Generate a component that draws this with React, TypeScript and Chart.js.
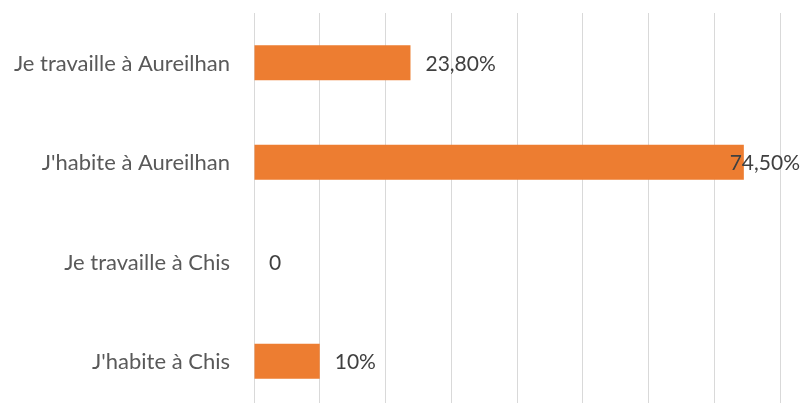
import React, { useEffect, useRef } from "react";
import { Chart, registerables } from "chart.js";

Chart.register(...registerables);

const categories = [
  "Je travaille à Aureilhan",
  "J'habite à Aureilhan",
  "Je travaille à Chis",
  "J'habite à Chis",
];
const values = [23.8, 74.5, 0, 10];
const valueLabels = ["23,80%", "74,50%", "0", "10%"];
const axisMax = 80;
const axisStep = 10;

const FONT = "Lato, 'Open Sans', sans-serif";

const labelsPlugin = {
  id: "customLabels",
  afterDatasetsDraw(chart: any) {
    const ctx = chart.ctx;
    const meta = chart.getDatasetMeta(0);
    const yScale = chart.scales.y;
    ctx.save();
    ctx.textBaseline = "middle";
    // category labels
    ctx.font = `22px ${FONT}`;
    ctx.fillStyle = "#595959";
    ctx.textAlign = "right";
    categories.forEach((c, i) => {
      const y = yScale.getPixelForValue(i);
      ctx.fillText(c, chart.chartArea.left - 24, y + 1);
    });
    // value labels
    ctx.font = `21px ${FONT}`;
    ctx.fillStyle = "#404040";
    ctx.textAlign = "left";
    meta.data.forEach((bar: any, i: number) => {
      const text = valueLabels[i];
      const w = ctx.measureText(text).width;
      let x = bar.x + 15;
      if (x + w > chart.width - 3) x = chart.width - 3 - w;
      ctx.fillText(text, x, bar.y + 1);
    });
    ctx.restore();
  },
};

export default function App() {
  const ref = useRef<HTMLCanvasElement | null>(null);
  useEffect(() => {
    if (!ref.current) return;
    const chart = new Chart(ref.current, {
      type: "bar",
      data: {
        labels: categories,
        datasets: [
          {
            data: values,
            backgroundColor: "#ED7D31",
            borderWidth: 0,
            barPercentage: 0.352,
            categoryPercentage: 1,
          },
        ],
      },
      options: {
        indexAxis: "y",
        animation: false,
        responsive: false,
        maintainAspectRatio: false,
        layout: { autoPadding: false, padding: { top: 13, right: 23, bottom: 0, left: 0 } },
        plugins: {
          legend: { display: false },
          tooltip: { enabled: false },
        },
        scales: {
          x: {
            min: 0,
            max: axisMax,
            ticks: { display: false, stepSize: axisStep },
            grid: { color: "#d9d9d9", lineWidth: 1, drawTicks: false },
            border: { display: false },
            afterFit: (scale: any) => {
              scale.height = 0;
            },
          },
          y: {
            ticks: { display: false },
            grid: { display: false, drawTicks: false },
            border: { display: false },
            afterFit: (scale: any) => {
              scale.width = 254;
            },
          },
        },
      },
      plugins: [labelsPlugin],
    });
    return () => chart.destroy();
  }, []);
  return (
    <div
      style={{
        position: "fixed",
        left: 0,
        top: 0,
        width: 803,
        height: 403,
        overflow: "hidden",
        background: "#fff",
      }}
    >
      <canvas ref={ref} width={803} height={411} style={{ display: "block" }} />
    </div>
  );
}
